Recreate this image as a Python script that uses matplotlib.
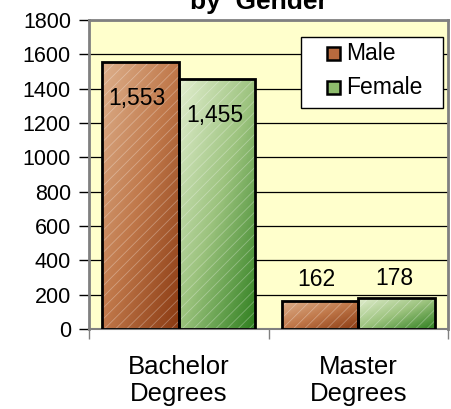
import numpy as np
import matplotlib
matplotlib.use("Agg")
import matplotlib.pyplot as plt
from matplotlib.colors import LinearSegmentedColormap
from matplotlib.patches import Rectangle

# --- data ---
categories = ["Bachelor\nDegrees", "Master\nDegrees"]
series_names = ["Male", "Female"]
male = [1553, 162]
female = [1455, 178]
yticks = [0, 200, 400, 600, 800, 1000, 1200, 1400, 1600, 1800]

plt.rcParams["font.family"] = ["Liberation Sans", "DejaVu Sans"]
plt.rcParams["hatch.linewidth"] = 0.6

male_cmap = LinearSegmentedColormap.from_list("male", ["#DDB08C", "#C0784A", "#8A3A12"])
female_cmap = LinearSegmentedColormap.from_list("female", ["#E2EECF", "#9CC37E", "#2F7F1F"])

W, H = 451, 409
fig = plt.figure(figsize=(W / 100, H / 100), dpi=100)
ax = fig.add_axes([89 / W, 1 - 329 / H, (448 - 89) / W, (329 - 20) / H])
ax.set_facecolor("#FFFFCC")

x = np.arange(len(categories))
w = 0.425


def gradient_bars(xs, vals, cmap):
    bars = ax.bar(xs, vals, width=w, color="none", edgecolor="black", linewidth=2, zorder=4)
    uu, vv = np.meshgrid(np.linspace(0, 1, 60), np.linspace(0, 1, 60))
    grad = 0.5 * uu + 0.5 * vv  # light top-left -> dark bottom-right
    for b in bars:
        x0, y0 = b.get_x(), b.get_y()
        im = ax.imshow(grad, cmap=cmap, extent=(x0, x0 + b.get_width(), y0, y0 + b.get_height()),
                       origin="upper", aspect="auto", zorder=2, vmin=0, vmax=1)
        im.set_clip_path(b)
    # faint white diagonal streaks
    ax.bar(xs, vals, width=w, color="none", edgecolor=(1, 1, 1, 0.3), linewidth=0,
           hatch="///", zorder=3)
    return bars


gradient_bars(x - w / 2, male, male_cmap)
gradient_bars(x + w / 2, female, female_cmap)

# value labels
for i in range(len(categories)):
    off = -36 if male[i] > 1000 else 22
    ax.annotate(f"{male[i]:,}", (x[i] - w / 2 - 0.02, male[i]), xytext=(0, off),
                textcoords="offset pixels", ha="center", va="center", fontsize=16.5, zorder=6)
    off = -36 if female[i] > 1000 else 20
    ax.annotate(f"{female[i]:,}", (x[i] + w / 2 - 0.01, female[i]), xytext=(0, off),
                textcoords="offset pixels", ha="center", va="center", fontsize=16.5, zorder=6)

ax.set_xlim(-0.5, len(categories) - 0.5)
ax.set_ylim(0, 1800)
ax.set_yticks(yticks)
ax.set_yticklabels([str(t) for t in yticks], fontsize=15.5)
ax.grid(axis="y", color="black", linewidth=0.9, zorder=1)
ax.set_axisbelow(True)

# category axis: ticks between groups, labels centered under groups
ax.set_xticks(np.arange(-0.5, len(categories)), minor=False)
ax.set_xticklabels([""] * (len(categories) + 1))
ax.set_xticks(x, minor=True)
ax.set_xticklabels(categories, minor=True, fontsize=18.5, linespacing=1.15)
ax.tick_params(axis="x", which="major", length=7, width=1, color="#808080", direction="out")
ax.tick_params(axis="x", which="minor", length=0, pad=19)
ax.tick_params(axis="y", length=7, width=1, color="black", pad=6)

for s in ["top", "right", "left"]:
    ax.spines[s].set_color("#808080")
    ax.spines[s].set_linewidth(2)
ax.spines["bottom"].set_color("#808080")
ax.spines["bottom"].set_linewidth(1.5)

# legend box, drawn in figure pixels
def fpx(px, py):
    return px / W, 1 - py / H

fig.patches.append(Rectangle(fpx(301, 108), 142 / W, 71 / H, transform=fig.transFigure,
                             facecolor="white", edgecolor="black", linewidth=1, zorder=5))
legend_colors = ["#B86A3E", "#8DBB6C"]
for k, (name, col) in enumerate(zip(series_names, legend_colors)):
    cy = 53 + 34 * k
    fig.patches.append(Rectangle(fpx(327, cy + 6.5), 13 / W, 13 / H, transform=fig.transFigure,
                                 facecolor=col, edgecolor="black", linewidth=1.8, zorder=6))
    fig.text(*fpx(346, cy), name, ha="left", va="center", fontsize=16.5, zorder=7)

# title is clipped by the top edge of the image
fig.text(259 / W, 1 - 9 / H, "by  Gender", ha="center", va="baseline",
         fontsize=19, fontweight="bold")

fig.savefig("out.png", dpi=100)
